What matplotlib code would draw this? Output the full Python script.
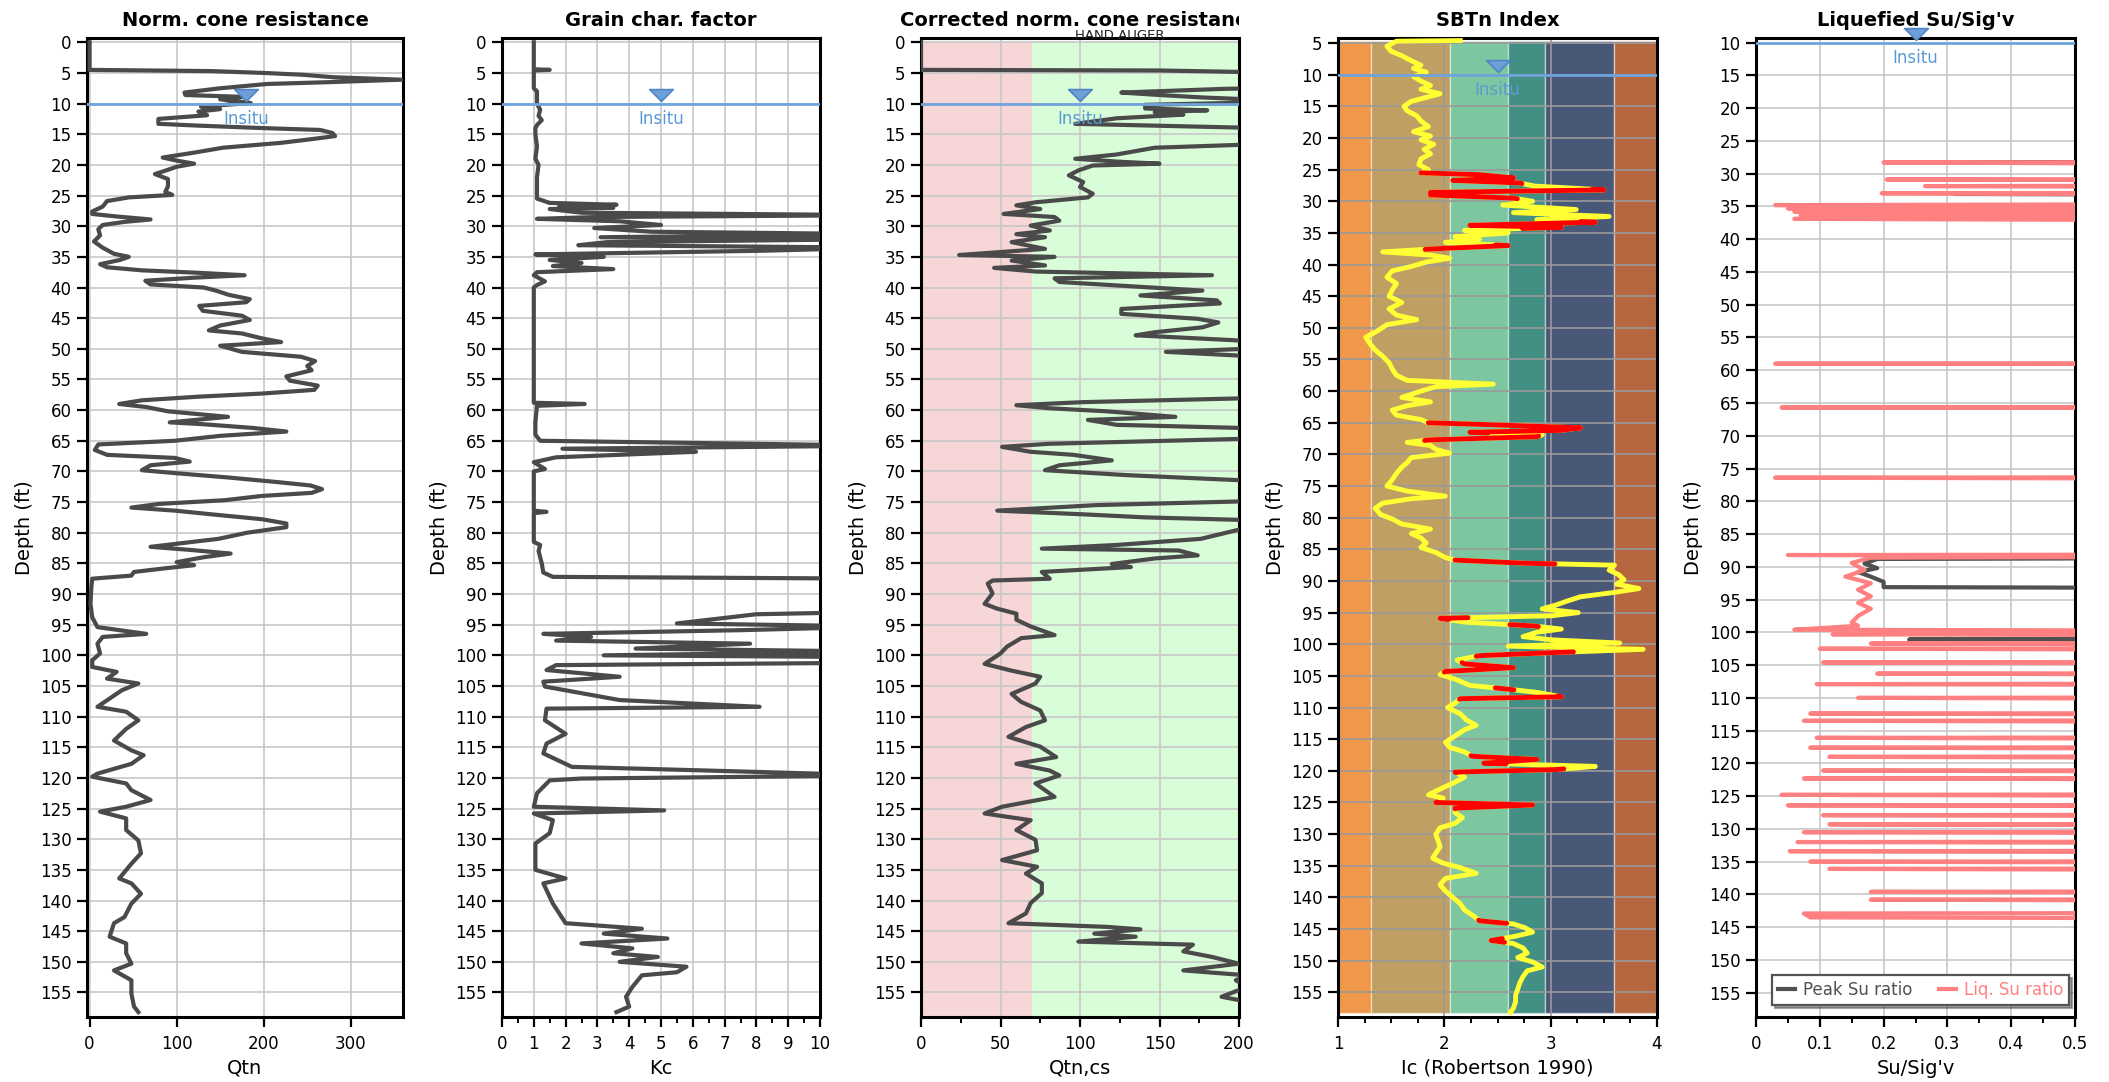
import numpy as np
import matplotlib
matplotlib.use("Agg")
import matplotlib.pyplot as plt
from matplotlib.path import Path
from matplotlib.transforms import ScaledTranslation, Bbox, TransformedBbox

plt.rcParams['font.family'] = ['DejaVu Sans']

# ---------------- data ----------------
water_table = 10.0

qtn_profile = np.array([
    [0, 0], [4.5, 0], [4.7, 140], [5.0, 200], [5.3, 245], [5.7, 280], [6.1, 358], [6.5, 276], [6.8, 204],
    [7.5, 150], [8.2, 109], [8.6, 110], [8.9, 176], [9.3, 150], [9.9, 185], [10.5, 128], [10.9, 150],
    [11.3, 125], [11.9, 135], [12.5, 79], [13.3, 79], [13.6, 126], [14.0, 200], [14.3, 265], [14.8, 279],
    [15.3, 282], [15.8, 255], [16.4, 220], [17.2, 153], [18.0, 120], [18.8, 84], [19.3, 100], [19.8, 120],
    [20.3, 100], [20.8, 90], [21.5, 75], [22.3, 90], [23.5, 90], [24.4, 87], [24.9, 95], [25.3, 45],
    [25.9, 20], [26.8, 15], [27.6, 3], [28.0, 3], [28.4, 30], [28.9, 70], [29.3, 40], [29.8, 15],
    [30.5, 10], [31.5, 12], [32.5, 5], [33.5, 15], [34.5, 28], [35.0, 45], [35.5, 35], [36.2, 12],
    [36.7, 20], [37.2, 60], [37.6, 125], [38.0, 178], [38.4, 120], [38.9, 64], [39.5, 70], [40.0, 131],
    [40.5, 145], [41.2, 160], [41.9, 184], [42.4, 180], [43.0, 126], [43.8, 130], [44.6, 175], [45.3, 184],
    [46.2, 150], [47.0, 137], [47.5, 175], [48.3, 198], [48.9, 220], [49.5, 150], [50.5, 175], [51.3, 243],
    [52.0, 259], [52.8, 250], [53.5, 255], [54.5, 226], [55.2, 230], [56.0, 262], [56.7, 258], [57.3, 198],
    [57.8, 126], [58.4, 60], [59.0, 34], [59.5, 65], [60.2, 90], [61.1, 159], [62.0, 92], [62.3, 130],
    [62.9, 187], [63.5, 226], [64.2, 150], [65.0, 98], [65.6, 10], [66.5, 6], [67.3, 20], [67.8, 98],
    [68.4, 115], [69.0, 70], [69.8, 60], [70.3, 100], [71.0, 160], [71.8, 220], [72.3, 254], [72.9, 267],
    [73.5, 255], [74.0, 198], [74.7, 155], [75.3, 80], [75.9, 48], [76.4, 98], [77.0, 140], [77.8, 198],
    [78.5, 226], [79.1, 226], [80.0, 181], [81.0, 148], [82.3, 70], [82.8, 115], [83.4, 162], [84.0, 131],
    [84.8, 100], [85.3, 120], [85.8, 87], [86.4, 51], [87.0, 48], [87.5, 3], [88.9, 2], [91.6, 1],
    [93.8, 3], [95.4, 9], [96.5, 65], [97.0, 15], [98.1, 9], [99.7, 12], [100.8, 3], [101.9, 3],
    [102.7, 31], [103.8, 20], [104.6, 56], [105.7, 37], [108.4, 9], [109.2, 42], [110.6, 56], [112.0, 42],
    [113.9, 28], [115.5, 48], [116.3, 62], [117.7, 48], [119.3, 9], [119.8, 3], [120.9, 42], [122.0, 48],
    [123.6, 70], [124.7, 42], [125.5, 12], [126.6, 42], [128.5, 42], [130.2, 56], [132.3, 59], [134.0, 48],
    [136.4, 34], [137.2, 48], [138.9, 59], [140.5, 48], [142.7, 40], [143.7, 28], [145.9, 23], [147.0, 42],
    [148.6, 42], [150.3, 48], [151.4, 28], [153.0, 48], [155.2, 48], [157.3, 51], [158.2, 56]])

kc_profile = np.array([
    [0, 1.0], [4.4, 1.0], [4.5, 1.5], [4.6, 1.0], [7.5, 1.0], [8.0, 1.1], [9.0, 1.1], [10, 1.1], [11, 1.2],
    [12, 1.15], [12.7, 1.25], [13.5, 1.1], [14, 1.05], [15, 1.05], [17, 1.1], [19, 1.05], [20, 1.15],
    [22, 1.1], [24, 1.1], [25.5, 1.1], [26.2, 1.5], [26.5, 3.6], [26.8, 1.8], [27.0, 3.5], [27.2, 1.5],
    [27.8, 2.5], [28.2, 12], [28.5, 3], [28.8, 1.1], [29.2, 3.7], [29.8, 5.0], [30.3, 2.9], [30.9, 4.7],
    [31.3, 12], [31.8, 3.1], [32.1, 12], [32.6, 3.3], [33.1, 2.4], [33.5, 12], [34.0, 8.2], [34.6, 1.05],
    [35.0, 3.2], [35.5, 1.5], [36.0, 2.5], [36.5, 1.6], [37.0, 3.5], [37.5, 1.1], [38, 1.0], [39, 1.35],
    [39.6, 1.1], [40, 1.0], [58.8, 1.0], [59.0, 2.6], [59.3, 1.1], [62, 1.05], [64, 1.05], [65, 1.2],
    [65.8, 12], [66.3, 1.9], [66.8, 6.1], [67.3, 3.7], [67.7, 1.7], [68.5, 1.0], [69.6, 1.35], [70, 1.0],
    [76.4, 1.0], [76.6, 1.4], [76.8, 1.0], [80, 1.0], [81.5, 1.0], [82, 1.2], [83, 1.15], [85, 1.25],
    [86.5, 1.3], [87.2, 1.6], [87.5, 12], [92.9, 12], [93.3, 8.0], [93.9, 7.0], [94.8, 5.5], [95.3, 12],
    [95.9, 7.5], [96.5, 1.3], [97.0, 2.8], [97.6, 1.7], [98.1, 7.8], [98.9, 4.2], [99.4, 12], [100.0, 3.2],
    [100.3, 12], [101.2, 12], [101.6, 1.7], [102.4, 1.4], [103.5, 3.7], [104.3, 1.3], [105.1, 1.35],
    [107.3, 3.7], [108.4, 8.1], [108.7, 1.4], [110.6, 1.35], [112.8, 2.0], [114.4, 1.4], [116.0, 1.3],
    [118.2, 2.2], [118.7, 5.8], [119.6, 12], [120.1, 2.5], [120.4, 1.5], [122.5, 1.1], [124.7, 1.0],
    [125.3, 5.1], [125.8, 1.0], [126.9, 1.6], [129, 1.5], [130.7, 1.05], [135, 1.05], [136.4, 2.0],
    [137.2, 1.3], [140.5, 1.6], [143.7, 2.0], [144.6, 4.4], [145.4, 3.2], [146.2, 5.2], [147.0, 2.5],
    [147.8, 4.1], [148.6, 3.5], [149.2, 4.9], [150.0, 3.7], [150.8, 5.8], [151.7, 5.5], [152.2, 4.4],
    [154.1, 4.1], [155.7, 3.9], [157.3, 4.0], [158.2, 3.6]])

qtncs_profile = np.array([
    [0, 0], [4.5, 0], [4.6, 150], [4.9, 215], [7.4, 230], [7.6, 190], [8.2, 126], [8.6, 150], [9.0, 177],
    [9.4, 215], [9.9, 195], [10.2, 141], [10.8, 141], [11.1, 180], [11.4, 147], [11.8, 165], [12.4, 123],
    [13.3, 97], [13.6, 147], [14.0, 215], [16.6, 215], [17.2, 147], [18.3, 123], [19.0, 97], [19.5, 126],
    [19.8, 150], [20.1, 108], [20.9, 99], [21.7, 93], [22.8, 102], [23.6, 100], [24.7, 108], [25.3, 105],
    [26.1, 72], [26.6, 60], [27.2, 75], [28.0, 52], [28.5, 84], [29.1, 87], [29.9, 69], [30.7, 81],
    [31.3, 60], [31.8, 78], [32.6, 57], [33.7, 78], [34.7, 24], [35.0, 84], [35.6, 57], [36.4, 78],
    [36.8, 46], [37.4, 72], [38.0, 183], [38.5, 84], [39.1, 87], [39.7, 126], [40.5, 177], [41.3, 138],
    [42.1, 186], [42.6, 188], [43.5, 126], [44.3, 126], [45.1, 174], [45.7, 187], [46.5, 177], [47.3, 147],
    [47.8, 135], [48.6, 197], [49.0, 215], [50.0, 205], [50.5, 154], [51.3, 215], [58.0, 215], [58.7, 102],
    [59.2, 60], [59.7, 81], [60.2, 117], [61.1, 160], [61.6, 105], [62.4, 123], [63.0, 215], [64.6, 215],
    [65.5, 80], [66.0, 51], [66.8, 69], [67.3, 96], [68.2, 120], [69.0, 87], [69.8, 78], [70.6, 129],
    [71.1, 171], [71.6, 215], [74.8, 215], [75.5, 110], [76.4, 48], [77.0, 102], [77.5, 141], [78.0, 215],
    [78.5, 215], [79.5, 200], [81.0, 176], [82.0, 123], [82.6, 76], [82.9, 162], [83.7, 174], [84.2, 147],
    [85.1, 120], [85.6, 132], [86.4, 76], [87.5, 81], [87.8, 45], [88.3, 42], [89.9, 45], [91.6, 40],
    [92.4, 48], [93.2, 60], [94.2, 60], [95.3, 69], [96.7, 84], [97.2, 63], [98.6, 54], [99.7, 50],
    [101.4, 40], [102.5, 57], [103.5, 75], [104.6, 72], [106.3, 57], [107.6, 63], [109.0, 75], [110.6, 78],
    [111.7, 66], [113.3, 55], [114.9, 75], [116.6, 85], [117.7, 60], [118.8, 81], [119.6, 87], [120.9, 72],
    [123.1, 84], [124.7, 51], [125.8, 40], [126.9, 69], [128.5, 60], [130.1, 72], [131.8, 73], [133.4, 51],
    [134.5, 73], [135.6, 66], [137.2, 76], [138.8, 76], [140.4, 69], [142.1, 66], [143.7, 55], [144.3, 117],
    [144.7, 138], [145.4, 109], [145.9, 135], [146.7, 99], [147.2, 171], [148.3, 165], [149.2, 183],
    [150.3, 200], [151.4, 165], [152.2, 205], [153.0, 198], [154.1, 205], [155.7, 189], [156.5, 205],
    [158.2, 215]])

ic_profile = np.array([
    [4.6, 2.15], [4.7, 1.55], [5.5, 1.46], [6.3, 1.5], [7.0, 1.6], [7.8, 1.69], [8.5, 1.78], [9.0, 1.71],
    [9.6, 1.83], [10.3, 1.71], [11.0, 1.78], [11.7, 1.87], [12.3, 1.78], [13.0, 1.96], [13.5, 1.85],
    [14.2, 1.69], [15.0, 1.62], [15.7, 1.65], [16.5, 1.74], [17.3, 1.78], [18.2, 1.85], [19.0, 1.71],
    [19.7, 1.87], [20.3, 1.78], [21.0, 1.9], [21.8, 1.81], [22.5, 1.87], [23.3, 1.78], [24.2, 1.76],
    [25.0, 1.85], [25.5, 1.78], [25.8, 2.33], [26.3, 2.65], [26.7, 2.08], [27.1, 2.7], [27.6, 2.85],
    [28.2, 3.5], [28.6, 1.87], [29.0, 1.87], [29.5, 2.65], [30.0, 2.83], [30.6, 2.55], [31.3, 3.24],
    [31.8, 2.65], [32.4, 3.55], [32.9, 2.87], [33.3, 3.42], [33.8, 2.24], [34.1, 3.1], [34.6, 2.19],
    [35.0, 2.6], [35.6, 2.1], [36.0, 2.33], [36.5, 2.01], [37.0, 2.6], [37.5, 1.92], [38.0, 1.42],
    [38.5, 1.87], [39.0, 2.05], [39.6, 1.83], [40.3, 1.69], [41.0, 1.51], [42.0, 1.46], [43.0, 1.55],
    [44.0, 1.51], [45.0, 1.48], [46.0, 1.6], [47.0, 1.48], [48.0, 1.55], [48.7, 1.74], [49.5, 1.46],
    [50.5, 1.37], [51.5, 1.26], [52.5, 1.3], [53.5, 1.35], [54.5, 1.42], [55.5, 1.48], [56.5, 1.51],
    [57.5, 1.55], [58.3, 1.65], [58.9, 2.46], [59.3, 1.92], [60.0, 1.78], [61.0, 1.6], [61.7, 1.87],
    [62.3, 1.65], [63.0, 1.51], [63.8, 1.55], [64.5, 1.78], [65.0, 1.85], [65.3, 2.42], [65.8, 3.28],
    [66.2, 3.1], [66.5, 2.24], [66.9, 2.92], [67.2, 2.87], [67.7, 1.87], [68.1, 1.65], [68.6, 1.87],
    [69.2, 1.92], [69.8, 2.05], [70.5, 1.69], [71.3, 1.65], [72.0, 1.6], [73.0, 1.55], [74.0, 1.51],
    [75.0, 1.46], [75.8, 1.65], [76.6, 2.01], [77.0, 1.69], [77.7, 1.42], [78.5, 1.35], [79.5, 1.4],
    [80.2, 1.51], [81.0, 1.6], [81.8, 1.87], [82.5, 1.69], [83.2, 1.78], [84.0, 1.83], [84.7, 1.78],
    [85.5, 1.92], [86.3, 2.01], [86.7, 2.1], [87.2, 2.76], [87.5, 3.6], [88.3, 3.55], [89.0, 3.64],
    [89.8, 3.69], [90.5, 3.62], [91.2, 3.83], [91.8, 3.6], [92.5, 3.28], [93.2, 3.15], [93.8, 3.05],
    [94.4, 2.92], [95.0, 3.26], [95.5, 3.01], [95.9, 1.96], [96.5, 2.19], [97.1, 2.83], [97.6, 3.1],
    [98.1, 2.87], [98.8, 2.74], [99.3, 3.01], [99.8, 3.65], [100.3, 2.6], [100.8, 3.87], [101.3, 3.05],
    [101.8, 2.33], [102.5, 2.12], [103.1, 2.19], [103.7, 2.65], [104.3, 2.01], [104.8, 1.96], [105.5, 2.1],
    [106.5, 2.24], [107.1, 2.6], [107.6, 2.87], [108.3, 3.1], [108.6, 2.15], [109.3, 2.1], [110.0, 2.03],
    [111.0, 2.15], [112.0, 2.21], [112.8, 2.3], [113.5, 2.19], [114.5, 2.1], [115.5, 2.01], [116.3, 2.05],
    [117.0, 2.19], [117.7, 2.26], [118.2, 2.87], [118.8, 2.37], [119.3, 3.42], [119.8, 3.05], [120.2, 2.1],
    [121.0, 2.19], [121.8, 2.1], [122.5, 2.01], [123.2, 1.92], [123.8, 1.85], [124.3, 1.99], [125.0, 1.92],
    [125.4, 2.83], [125.9, 2.1], [126.6, 2.1], [127.4, 2.17], [128.3, 2.1], [129.0, 1.96], [130.0, 1.92],
    [131.0, 1.94], [132.0, 1.96], [133.0, 1.92], [133.8, 1.89], [134.6, 1.99], [135.3, 2.15], [136.2, 2.3],
    [137.0, 2.01], [138.0, 1.96], [139.0, 2.01], [140.0, 2.08], [141.0, 2.15], [142.0, 2.19], [143.0, 2.28],
    [143.7, 2.33], [144.2, 2.65], [144.8, 2.76], [145.5, 2.83], [146.2, 2.65], [146.8, 2.44], [147.3, 2.65],
    [148.0, 2.74], [148.8, 2.78], [149.5, 2.69], [150.2, 2.83], [151.0, 2.92], [151.6, 2.78], [152.5, 2.74],
    [153.5, 2.71], [154.5, 2.69], [155.5, 2.67], [156.5, 2.67], [157.5, 2.65], [158.2, 2.62]])

ic_red_ranges = [(25.5, 27.2), (28.1, 29.6), (33.2, 34.3), (36.9, 37.6), (65.0, 66.6), (67.1, 67.8),
                 (86.7, 87.3), (95.8, 96.1), (96.9, 97.2), (101.2, 101.9), (102.9, 104.4), (106.9, 107.2),
                 (108.2, 108.7), (117.6, 118.9), (119.7, 120.3), (124.9, 126.0), (143.6, 144.1), (146.5, 147.1)]

sbt_bounds = [1.0, 1.31, 2.05, 2.6, 2.95, 3.6, 4.0]
sbt_colors = ['#f0984a', '#c0a062', '#7cc6a0', '#428f84', '#4a5878', '#b5683f']

liq_su_profile = np.array([
    [10, 1.0], [28.2, 1.0], [28.3, 0.2], [28.6, 1.0], [30.8, 1.0], [30.9, 0.205], [31.1, 1.0], [31.8, 1.0],
    [31.9, 0.265], [32.1, 1.0], [32.9, 1.0], [33.0, 0.197], [33.2, 1.0], [34.6, 1.0], [34.8, 0.03],
    [35.0, 1.0], [35.3, 0.05], [35.5, 1.0], [35.8, 0.06], [36.0, 1.0], [36.3, 0.07], [36.6, 1.0],
    [36.9, 0.06], [37.2, 1.0], [58.9, 1.0], [59.0, 0.03], [59.1, 1.0], [65.6, 1.0], [65.7, 0.04],
    [65.8, 1.0], [76.3, 1.0], [76.4, 0.03], [76.6, 1.0], [88.1, 1.0], [88.2, 0.05], [88.4, 1.0],
    [88.6, 0.18], [89.4, 0.15], [90.5, 0.17], [91.5, 0.14], [92.5, 0.18], [93.5, 0.16], [94.5, 0.18],
    [95.5, 0.16], [96.4, 0.18], [97.5, 0.16], [98.5, 0.15], [99.0, 0.16], [99.6, 0.06], [99.8, 1.0],
    [100.3, 0.12], [100.5, 1.0], [101.6, 1.0], [101.7, 0.18], [101.9, 1.0], [102.4, 1.0], [102.5, 0.1],
    [102.7, 1.0], [104.5, 1.0], [104.6, 0.105], [104.8, 1.0], [106.2, 1.0], [106.3, 0.19], [106.5, 1.0],
    [107.8, 1.0], [107.9, 0.095], [108.1, 1.0], [109.9, 1.0], [110.0, 0.16], [110.2, 1.0], [112.3, 1.0],
    [112.4, 0.085], [112.6, 1.0], [113.4, 1.0], [113.5, 0.075], [113.7, 1.0], [116.0, 1.0], [116.1, 0.095],
    [116.3, 1.0], [117.5, 1.0], [117.6, 0.085], [117.8, 1.0], [118.9, 1.0], [119.0, 0.115], [119.2, 1.0],
    [121.0, 1.0], [121.1, 0.105], [121.3, 1.0], [122.2, 1.0], [122.3, 0.075], [122.5, 1.0], [124.7, 1.0],
    [124.8, 0.04], [125.0, 1.0], [126.3, 1.0], [126.4, 0.05], [126.6, 1.0], [127.8, 1.0], [127.9, 0.105],
    [128.1, 1.0], [129.2, 1.0], [129.3, 0.115], [129.5, 1.0], [130.4, 1.0], [130.5, 0.075], [130.7, 1.0],
    [131.9, 1.0], [132.0, 0.065], [132.2, 1.0], [133.3, 1.0], [133.4, 0.053], [133.6, 1.0], [134.9, 1.0],
    [135.0, 0.085], [135.2, 1.0], [136.0, 1.0], [136.1, 0.115], [136.3, 1.0], [139.5, 1.0], [139.6, 0.18],
    [139.8, 1.0], [140.7, 1.0], [140.8, 0.18], [141.0, 1.0], [142.8, 1.0], [142.9, 0.075], [143.5, 0.085],
    [143.7, 1.0], [158.5, 1.0]])

peak_su_profile = np.array([
    [10, 1.0], [28.2, 1.0], [28.3, 0.28], [28.5, 1.0], [33.0, 1.0], [33.1, 0.31], [33.3, 1.0], [65.6, 1.0],
    [65.7, 0.475], [65.8, 1.0], [88.6, 1.0], [88.8, 0.19], [89.5, 0.17], [90.2, 0.19], [90.8, 0.16],
    [91.5, 0.18], [92.3, 0.2], [93.1, 0.2], [93.3, 1.0], [99.9, 1.0], [100.1, 0.2], [100.3, 1.0],
    [100.9, 1.0], [101.1, 0.24], [101.3, 1.0], [158.5, 1.0]])

# ---------------- figure ----------------
W, H = 2109, 1082
fig = plt.figure(figsize=(W / 100, H / 100), dpi=100)
TOP, BOT = 38, 1017
panels_px = [(87, 403), (502, 820), (921, 1239), (1338, 1657), (1756, 2075)]
axes = [fig.add_axes([l / W, 1 - BOT / H, (r - l) / W, (BOT - TOP) / H]) for l, r in panels_px]

LINE = '#4a4a4a'
GRID = '#c8c8c8'
WT_BLUE = '#6fa3dc'
tri = Path([(-1, 0.5), (1, 0.5), (0, -0.5), (-1, 0.5)],
           [Path.MOVETO, Path.LINETO, Path.LINETO, Path.CLOSEPOLY])


def style(ax, xlim, ylim, xticks, xminor, yticks, xlabel, title):
    ax.set_xlim(*xlim)
    ax.set_ylim(*ylim)
    ax.set_xticks(xticks)
    if xminor is not None:
        ax.set_xticks(xminor, minor=True)
    ax.set_yticks(yticks)
    ax.grid(True, which='major', color=GRID, lw=1.2)
    for s in ax.spines.values():
        s.set_linewidth(2.2)
        s.set_color('black')
    ax.tick_params(axis='both', which='major', labelsize=12, length=7, width=1.6, pad=4, direction='out')
    ax.tick_params(axis='x', which='minor', length=4, width=1.4, direction='out')
    ax.tick_params(axis='x', which='major', pad=6)
    ax.set_xlabel(xlabel, fontsize=14, labelpad=4)
    ax.set_ylabel('Depth (ft)', fontsize=14, labelpad=4)
    t = ax.set_title(title, fontsize=14, fontweight='bold', pad=9)
    return t


def water(ax, xpos, label_offset=-15):
    ax.axhline(water_table, color=WT_BLUE, lw=2, zorder=4)
    off = ScaledTranslation(0, 0.09, fig.dpi_scale_trans)
    ax.plot([xpos], [water_table], marker=tri, markersize=17, mfc='#6f9fd8', mec='#4f86c6', mew=1.2,
            transform=ax.transData + off, clip_on=False, zorder=6)
    ax.annotate('Insitu', (xpos, water_table), xytext=(0, label_offset), textcoords='offset pixels',
                ha='center', va='center', color='#5b9bd5', fontsize=12, zorder=6, annotation_clip=False)


# Panel 1: Qtn
ax = axes[0]
ax.plot(qtn_profile[:, 1], qtn_profile[:, 0], color=LINE, lw=3, solid_joinstyle='round', zorder=3)
style(ax, (-3, 360), (159.0, -0.7), [0, 100, 200, 300], None, np.arange(0, 156, 5), 'Qtn',
      'Norm. cone resistance')
water(ax, 180)

# Panel 2: Kc
ax = axes[1]
ax.plot(kc_profile[:, 1], kc_profile[:, 0], color=LINE, lw=3, solid_joinstyle='round', zorder=3)
style(ax, (0, 10), (159.0, -0.7), np.arange(0, 11, 1), np.arange(0.5, 10, 1.0), np.arange(0, 156, 5), 'Kc',
      'Grain char. factor')
water(ax, 5)

# Panel 3: Qtn,cs
ax = axes[2]
ax.fill_betweenx([0, 159], 0, 70, color='#f6d6d6', lw=0, zorder=1)
ax.fill_betweenx([0, 159], 70, 200, color='#d9fdd9', lw=0, zorder=1)
ax.plot(qtncs_profile[:, 1], qtncs_profile[:, 0], color=LINE, lw=3, solid_joinstyle='round', zorder=3)
t3 = style(ax, (0, 200), (159.0, -0.7), [0, 50, 100, 150, 200], np.arange(25, 200, 50), np.arange(0, 156, 5),
           'Qtn,cs', 'Corrected norm. cone resistance')
t3.set_clip_box(TransformedBbox(Bbox([[0, 0], [1239 / W, 1]]), fig.transFigure))
t3.set_clip_on(True)
ha_off = ScaledTranslation(0, -0.01, fig.dpi_scale_trans)
ax.text(125, 1.0, 'HAND AUGER', transform=ax.get_xaxis_transform() + ha_off, ha='center', va='baseline',
        fontsize=9.5, color='#222222', zorder=7)
water(ax, 100)

# Panel 4: Ic
ax = axes[3]
ic_top, ic_bot = ic_profile[0, 0], ic_profile[-1, 0]
for i, c in enumerate(sbt_colors):
    ax.fill_betweenx([ic_top, ic_bot], sbt_bounds[i], sbt_bounds[i + 1], facecolor=c,
                     edgecolor=(1, 1, 1, 0.45), lw=1, zorder=1)
ax.plot(ic_profile[:, 1], ic_profile[:, 0], color='#ffff33', lw=3.5, solid_joinstyle='round', zorder=3)
for a, b in ic_red_ranges:
    mask = (ic_profile[:, 0] > a) & (ic_profile[:, 0] < b)
    dd = np.concatenate([[a], ic_profile[mask, 0], [b]])
    vv = np.interp(dd, ic_profile[:, 0], ic_profile[:, 1])
    ax.plot(vv, dd, color='#ff0000', lw=3.5, solid_capstyle='round', zorder=3.5)
style(ax, (1, 4), (158.9, 4.2), [1, 2, 3, 4], np.arange(1.25, 4, 0.25), np.arange(5, 156, 5),
      'Ic (Robertson 1990)', 'SBTn Index')
ax.grid(True, which='major', color='#9a9a9a', lw=1.2)
water(ax, 2.5)

# Panel 5: Su ratio
ax = axes[4]
ax.plot(peak_su_profile[:, 1], peak_su_profile[:, 0], color='#505050', lw=3, label='Peak Su ratio', zorder=3)
ax.plot(liq_su_profile[:, 1], liq_su_profile[:, 0], color='#ff8080', lw=3, label='Liq. Su ratio', zorder=3)
style(ax, (0, 0.5), (158.7, 9.3), [0, 0.1, 0.2, 0.3, 0.4, 0.5], np.arange(0.05, 0.5, 0.1),
      np.arange(10, 156, 5), "Su/Sig'v", "Liquefied Su/Sig'v")
ax.set_xticklabels(['0', '0.1', '0.2', '0.3', '0.4', '0.5'])
water(ax, 0.25)
leg = ax.legend(loc='lower left', bbox_to_anchor=(0.025, 0.004), ncol=2, fontsize=12, frameon=True,
                fancybox=False, shadow=True, edgecolor='#555555', handlelength=1.0, handletextpad=0.5,
                columnspacing=1.6, borderpad=0.35, labelcolor='linecolor')
leg.get_frame().set_linewidth(1.6)
leg.set_zorder(8)

fig.savefig('out.png', dpi=100)
